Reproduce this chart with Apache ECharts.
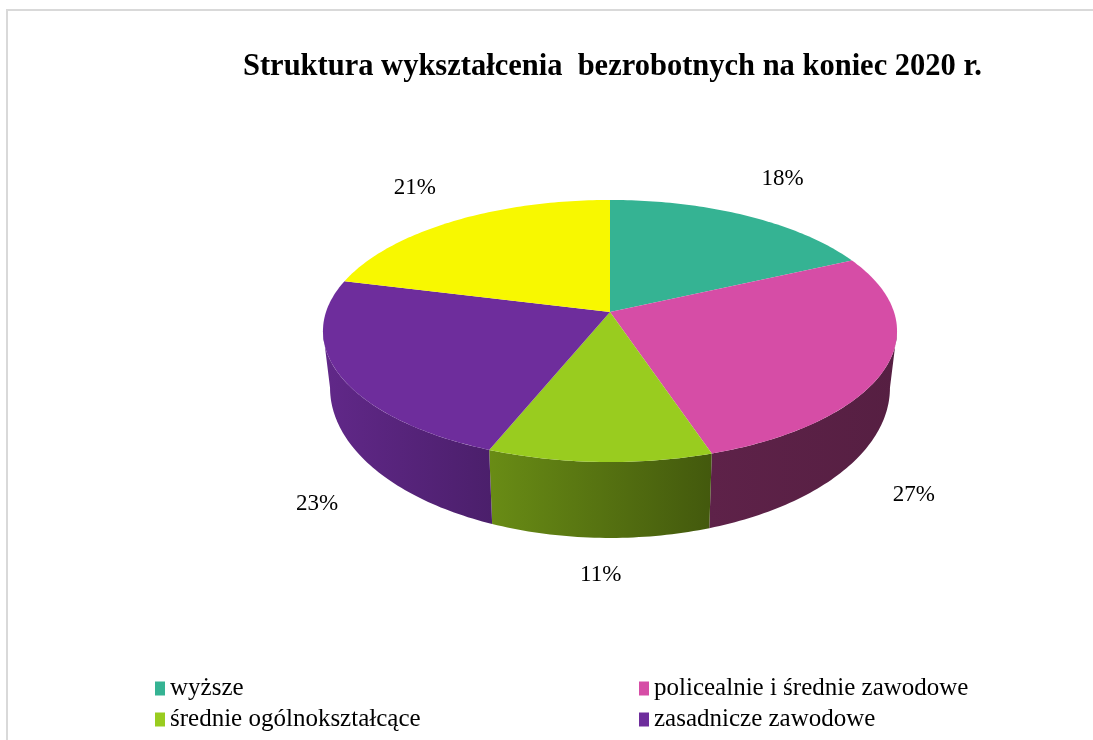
<!DOCTYPE html>
<html>
<head>
<meta charset="utf-8">
<script src="https://cdn.jsdelivr.net/npm/echarts@6/dist/echarts.min.js"></script>
<style>
  html, body { margin: 0; padding: 0; background: #fff; }
  #main { width: 1093px; height: 740px; }
</style>
</head>
<body>
<div id="main"></div>
<script>
// dane
var categories = ["wyższe", "policealnie i średnie zawodowe", "średnie ogólnokształcące", "zasadnicze zawodowe", "gimnazjalne i poniżej"];
var shares = [18, 27, 11, 23, 21];
var legendLeft = ["wyższe", "średnie ogólnokształcące"];
var legendRight = ["policealnie i średnie zawodowe", "zasadnicze zawodowe"];

var palette = ["#35B393", "#D64DA6", "#99CC1F", "#6E2D9C", "#F8F800"];

// geometria "3D" tortu (rzut perspektywiczny koła)
var PERSP = 0.145;
var TOP = { ax: 610, ay: 312, a: 284, b: 128.3 };
var BOT = { ax: 610, ay: 366, a: 277, b: 147 };
var EDGE = Math.asin(PERSP) * 180 / Math.PI; // kąt konturu bocznego

var total = shares.reduce(function (a, b) { return a + b; }, 0);

function rad(d) { return d * Math.PI / 180; }

function pt(e, deg) {
  var s = Math.sin(rad(deg)), c = Math.cos(rad(deg));
  var k = 1 + PERSP * s;
  return [e.ax + e.a * c / k, e.ay - e.b * s / k];
}

function arc(e, from, to) {
  var pts = [];
  var n = Math.max(2, Math.ceil(from - to));
  for (var k = 0; k <= n; k++) {
    pts.push(pt(e, from - (from - to) * k / n));
  }
  return pts;
}

function shade(hex, f) {
  var c = parseInt(hex.slice(1), 16);
  var r = Math.round(((c >> 16) & 255) * f);
  var g = Math.round(((c >> 8) & 255) * f);
  var b = Math.round((c & 255) * f);
  return "rgb(" + r + "," + g + "," + b + ")";
}

// cieniowanie boku: jaśniej z lewej, ciemniej z prawej
function sideFactor(x) {
  return Math.max(0.4, Math.min(0.9, 0.87 - (x - 330) * 0.00114));
}

function makeRender(i) {
  return function (params, api) {
    var before = 0;
    for (var j = 0; j < i; j++) before += shares[j];
    var a0 = 90 - 360 * before / total;
    var a1 = 90 - 360 * (before + api.value(0)) / total;
    var color = palette[i];
    var children = [];

    // bok (tylko widoczna, przednia część)
    var hi = Math.min(a0, -EDGE), lo = Math.max(a1, -180 + EDGE);
    if (hi > lo) {
      var topPts = arc(TOP, hi, lo);
      var botPts = arc(BOT, hi, lo).reverse();
      var xs = topPts.concat(botPts).map(function (p) { return p[0]; });
      var xMin = Math.min.apply(null, xs), xMax = Math.max.apply(null, xs);
      children.push({
        type: "polygon",
        shape: { points: topPts.concat(botPts) },
        style: {
          fill: {
            type: "linear", x: xMin, y: 0, x2: xMax, y2: 0, global: true,
            colorStops: [
              { offset: 0, color: shade(color, sideFactor(xMin)) },
              { offset: 1, color: shade(color, sideFactor(xMax)) }
            ]
          }
        }
      });
    }

    // wierzch
    children.push({
      type: "polygon",
      shape: { points: [[TOP.ax, TOP.ay]].concat(arc(TOP, a0, a1)) },
      style: { fill: color }
    });

    // etykieta
    var m = (a0 + a1) / 2;
    var s = Math.sin(rad(m)), c = Math.cos(rad(m));
    var lx, ly;
    if (s >= 0) {
      lx = 611 + 320 * c;
      ly = 314 - 160 * s;
    } else {
      lx = 611 + 330 * c;
      ly = 388 + 187 * Math.pow(-s, 0.6);
    }
    children.push({
      type: "text",
      x: lx, y: ly,
      style: {
        text: api.value(0) + "%",
        font: "23px 'Liberation Serif'",
        fill: "#000",
        align: "center",
        verticalAlign: "middle"
      }
    });

    return { type: "group", children: children };
  };
}

var chart = echarts.init(document.getElementById("main"));

var legendText = { fontFamily: "Liberation Serif", fontSize: 25, color: "#000", lineHeight: 25 };

chart.setOption({
  animation: false,
  backgroundColor: "#fff",
  title: {
    text: "Struktura wykształcenia  bezrobotnych na koniec 2020 r.",
    left: 238,
    top: 47,
    textStyle: { fontFamily: "Liberation Serif", fontWeight: "bold", fontSize: 30.5, color: "#000" }
  },
  legend: [
    {
      data: legendLeft, left: 150, top: 671, orient: "vertical", icon: "rect",
      itemWidth: 10, itemHeight: 14, itemGap: 6, itemStyle: { borderWidth: 0 },
      selectedMode: false, textStyle: legendText
    },
    {
      data: legendRight, left: 634, top: 671, orient: "vertical", icon: "rect",
      itemWidth: 10, itemHeight: 14, itemGap: 6, itemStyle: { borderWidth: 0 },
      selectedMode: false, textStyle: legendText
    }
  ],
  graphic: [
    {
      type: "rect",
      shape: { x: 7, y: 10, width: 1200, height: 900 },
      style: { fill: "none", stroke: "#d9d9d9", lineWidth: 2 },
      silent: true
    }
  ],
  series: categories.map(function (name, i) {
    return {
      type: "custom",
      name: name,
      coordinateSystem: "none",
      itemStyle: { color: palette[i] },
      data: [[shares[i]]],
      renderItem: makeRender(i)
    };
  })
});

window.onresize = function () { chart.resize(); };
</script>
</body>
</html>
